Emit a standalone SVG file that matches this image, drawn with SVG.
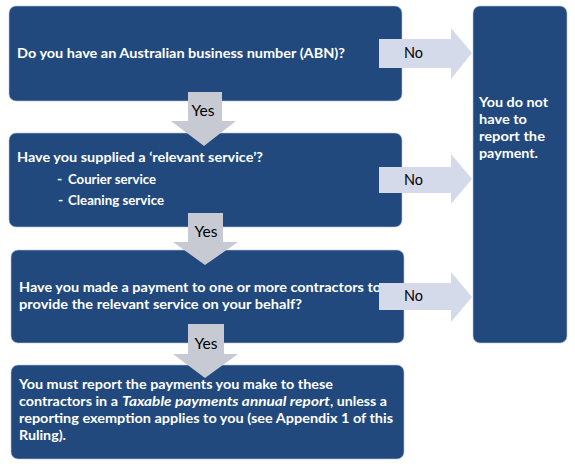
<svg xmlns="http://www.w3.org/2000/svg" width="575" height="468" viewBox="0 0 575 468">
<style>
.box{fill:#21497E;stroke:#B8C2D6;stroke-width:0.6}
.t{font-family:Lato,"Open Sans","Liberation Sans",sans-serif;font-weight:bold;font-size:14px;fill:#FFFFFF}
.lbl{font-family:Lato,"Open Sans","Liberation Sans",sans-serif;font-size:15px;fill:#000000}
.down{fill:#C7CAD2}
.right{fill:#D5DAEA}
</style>
<rect width="575" height="468" fill="#FFFFFF"/>
<g id="node-abn">
<rect class="box" x="9" y="6" width="393" height="95" rx="7"/>
<text class="t" x="17" y="58" textLength="328" lengthAdjust="spacingAndGlyphs">Do you have an Australian business number (ABN)?</text>
</g>
<g id="node-service">
<rect class="box" x="9" y="133" width="393" height="94" rx="7"/>
<text class="t" x="17" y="162" textLength="246" lengthAdjust="spacingAndGlyphs">Have you supplied a ‘relevant service’?</text>
<text class="t" x="57" y="184">-</text>
<text class="t" x="68" y="184" textLength="88" lengthAdjust="spacingAndGlyphs">Courier service</text>
<text class="t" x="58" y="205">-</text>
<text class="t" x="68" y="205" textLength="96" lengthAdjust="spacingAndGlyphs">Cleaning service</text>
</g>
<g id="node-payment">
<rect class="box" x="11" y="250" width="393" height="93" rx="7"/>
<text class="t" x="19" y="292" textLength="362" lengthAdjust="spacingAndGlyphs">Have you made a payment to one or more contractors to</text>
<text class="t" x="19" y="309" textLength="283" lengthAdjust="spacingAndGlyphs">provide the relevant service on your behalf?</text>
</g>
<g id="node-report">
<rect class="box" x="11" y="365" width="393" height="94" rx="7"/>
<text class="t" x="19" y="389" textLength="314" lengthAdjust="spacingAndGlyphs">You must report the payments you make to these</text>
<text class="t" x="19" y="406" textLength="99" lengthAdjust="spacingAndGlyphs">contractors in a</text>
<text class="t" x="122" y="406" font-style="italic" textLength="208" lengthAdjust="spacingAndGlyphs">Taxable payments annual report</text>
<text class="t" x="330" y="406" textLength="57" lengthAdjust="spacingAndGlyphs">, unless a</text>
<text class="t" x="19" y="423" textLength="374" lengthAdjust="spacingAndGlyphs">reporting exemption applies to you (see Appendix 1 of this</text>
<text class="t" x="19" y="440" textLength="47" lengthAdjust="spacingAndGlyphs">Ruling).</text>
</g>
<g id="node-no-report">
<rect class="box" x="473" y="6" width="94" height="337" rx="7"/>
<text class="t" x="479" y="107" textLength="69" lengthAdjust="spacingAndGlyphs">You do not</text>
<text class="t" x="479" y="124" textLength="48" lengthAdjust="spacingAndGlyphs">have to</text>
<text class="t" x="479" y="141" textLength="66" lengthAdjust="spacingAndGlyphs">report the</text>
<text class="t" x="479" y="158" textLength="59" lengthAdjust="spacingAndGlyphs">payment.</text>
</g>
<g id="connectors">
<polygon class="down" points="188,92 222,92 222,121 236,121 204,146 171,121 188,121"/>
<text class="lbl" x="203" y="116" text-anchor="middle" textLength="23" lengthAdjust="spacingAndGlyphs">Yes</text>
<polygon class="down" points="188,213 223,213 223,242 238,242 205,265 173,242 188,242"/>
<text class="lbl" x="206" y="237" text-anchor="middle" textLength="23" lengthAdjust="spacingAndGlyphs">Yes</text>
<polygon class="down" points="188,324 224,324 224,354 238,354 205,378 173,354 188,354"/>
<text class="lbl" x="206" y="349" text-anchor="middle" textLength="23" lengthAdjust="spacingAndGlyphs">Yes</text>
<polygon class="right" points="379,39 451,39 451,28 472,53 451,79 451,68 379,68"/>
<text class="lbl" x="404" y="58" textLength="19" lengthAdjust="spacingAndGlyphs">No</text>
<polygon class="right" points="379,167 451,167 451,154 472,179 451,204 451,193 379,193"/>
<text class="lbl" x="404" y="185" textLength="19" lengthAdjust="spacingAndGlyphs">No</text>
<polygon class="right" points="379,283 451,283 451,272 472,297 451,322 451,310 379,310"/>
<text class="lbl" x="404" y="301" textLength="19" lengthAdjust="spacingAndGlyphs">No</text>
</g>
</svg>
